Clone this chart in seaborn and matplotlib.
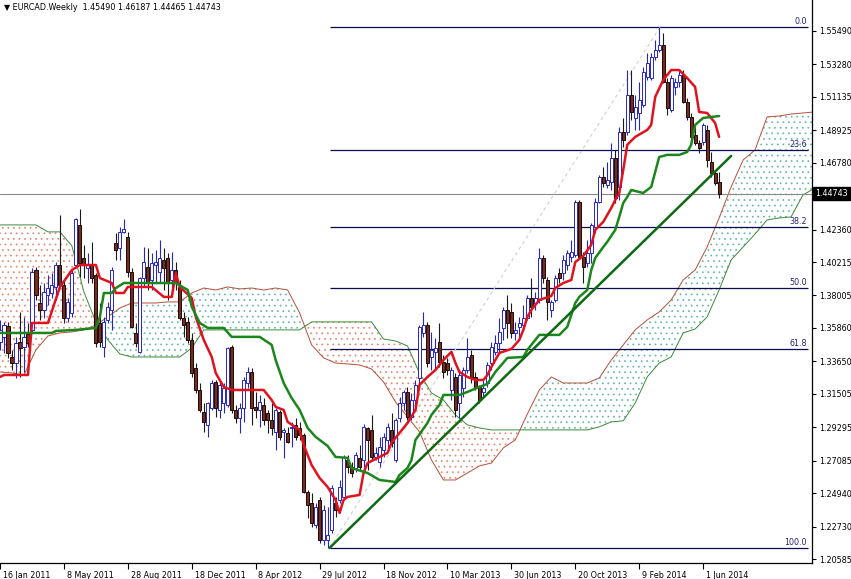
import numpy as np
import matplotlib
matplotlib.use("Agg")
import matplotlib.pyplot as plt
import matplotlib.transforms as mtransforms
import seaborn as sns

# weekly candles, bar 0 = week of 16 Jan 2011
opens = [1.3494, 1.3527, 1.3599, 1.3394, 1.3354, 1.3494, 1.3461, 1.3547, 1.3573, 1.3969,
         1.3751, 1.3705, 1.3804, 1.3817, 1.3857, 1.4002, 1.3870, 1.3652, 1.3685, 1.4002,
         1.4267, 1.4049, 1.3982, 1.4002, 1.3936, 1.3619, 1.3461, 1.3639, 1.3705, 1.4148,
         1.4115, 1.4221, 1.4188, 1.3956, 1.3553, 1.3428, 1.3916, 1.3989, 1.3903, 1.4002,
         1.3956, 1.4035, 1.4049, 1.3903, 1.3969, 1.3857, 1.3652, 1.3626, 1.3507, 1.3321,
         1.3176, 1.3031, 1.2945, 1.3057, 1.3229, 1.3044, 1.3090, 1.3077, 1.3461, 1.3044,
         1.2991, 1.3057, 1.3222, 1.3295, 1.3064, 1.3044, 1.3077, 1.3024, 1.2978, 1.2899,
         1.3031, 1.2899, 1.2892, 1.2925, 1.2945, 1.2925, 1.2879, 1.2502, 1.2429, 1.2284,
         1.2449, 1.2185, 1.2185, 1.2251, 1.2429, 1.2449, 1.2469, 1.2713, 1.2667, 1.2660,
         1.2727, 1.2713, 1.2925, 1.2912, 1.2733, 1.2700, 1.2780, 1.2846, 1.2912, 1.2713,
         1.2991, 1.3090, 1.3163, 1.2998, 1.3110, 1.3255, 1.3553, 1.3606, 1.3394, 1.3428,
         1.3494, 1.3361, 1.3354, 1.3176, 1.3262, 1.3090, 1.3189, 1.3308, 1.3408, 1.3262,
         1.3196, 1.3163, 1.3222, 1.3354, 1.3428, 1.3487, 1.3586, 1.3705, 1.3692, 1.3553,
         1.3593, 1.3606, 1.3652, 1.3784, 1.3751, 1.3771, 1.4049, 1.3903, 1.3705, 1.3771,
         1.3949, 1.3949, 1.4002, 1.4055, 1.4069, 1.4419, 1.4055, 1.4015, 1.4082, 1.4254,
         1.4419, 1.4584, 1.4531, 1.4551, 1.4710, 1.4518, 1.4882, 1.4882, 1.5126, 1.4974,
         1.5007, 1.5060, 1.5245, 1.5238, 1.5377, 1.5424, 1.5457, 1.5212, 1.5027, 1.5179,
         1.5212, 1.5258, 1.5080, 1.4981, 1.4862, 1.4809, 1.4816, 1.4895, 1.4683, 1.4610,
         1.45490]
highs = [1.3639, 1.3626, 1.3626, 1.3441, 1.3527, 1.3692, 1.3659, 1.3619, 1.3982, 1.3989,
         1.3870, 1.3883, 1.3936, 1.3949, 1.4022, 1.4333, 1.3903, 1.3784, 1.3969, 1.4313,
         1.4373, 1.4135, 1.4082, 1.4155, 1.3949, 1.3751, 1.3659, 1.3758, 1.3989, 1.4214,
         1.4254, 1.4307, 1.4221, 1.3982, 1.3619, 1.3923, 1.4121, 1.4115, 1.4082, 1.4102,
         1.4168, 1.4115, 1.4082, 1.4088, 1.4022, 1.3903, 1.3692, 1.3659, 1.3553, 1.3354,
         1.3222, 1.3090, 1.3097, 1.3242, 1.3242, 1.3242, 1.3222, 1.3461, 1.3474, 1.3077,
         1.3090, 1.3262, 1.3328, 1.3321, 1.3163, 1.3143, 1.3123, 1.3044, 1.3090, 1.3057,
         1.3044, 1.2925, 1.2932, 1.2965, 1.2991, 1.2965, 1.2892, 1.2515, 1.2495, 1.2429,
         1.2469, 1.2416, 1.2403, 1.2548, 1.2469, 1.2581, 1.2747, 1.2747, 1.2700, 1.2767,
         1.2813, 1.2952, 1.2932, 1.3011, 1.2800, 1.2866, 1.2892, 1.2958, 1.3024, 1.2991,
         1.3130, 1.3176, 1.3196, 1.3156, 1.3242, 1.3606, 1.3692, 1.3626, 1.3560, 1.3520,
         1.3619, 1.3408, 1.3388, 1.3328, 1.3288, 1.3308, 1.3328, 1.3520, 1.3441, 1.3295,
         1.3209, 1.3242, 1.3361, 1.3494, 1.3540, 1.3652, 1.3725, 1.3804, 1.3751, 1.3626,
         1.3659, 1.3738, 1.3804, 1.3916, 1.3824, 1.4115, 1.4069, 1.3923, 1.3771, 1.3936,
         1.3982, 1.4069, 1.4102, 1.4168, 1.4432, 1.4432, 1.4088, 1.4168, 1.4280, 1.4445,
         1.4597, 1.4650, 1.4683, 1.4809, 1.4763, 1.4915, 1.4974, 1.5291, 1.5291, 1.5126,
         1.5212, 1.5311, 1.5404, 1.5404, 1.5490, 1.5576, 1.5536, 1.5238, 1.5258, 1.5238,
         1.5291, 1.5291, 1.5106, 1.5007, 1.4915, 1.4829, 1.4941, 1.4928, 1.4749, 1.4630,
         1.46187]
lows = [1.3441, 1.3421, 1.3388, 1.3308, 1.3255, 1.3262, 1.3295, 1.3461, 1.3553, 1.3771,
        1.3639, 1.3652, 1.3738, 1.3784, 1.3771, 1.3857, 1.3619, 1.3626, 1.3659, 1.3982,
        1.3923, 1.3916, 1.3883, 1.3883, 1.3461, 1.3461, 1.3394, 1.3619, 1.3573, 1.4035,
        1.4035, 1.4214, 1.3923, 1.3586, 1.3461, 1.3421, 1.3857, 1.3837, 1.3837, 1.3890,
        1.3883, 1.3837, 1.3771, 1.3824, 1.3837, 1.3639, 1.3527, 1.3487, 1.3262, 1.3156,
        1.3031, 1.2899, 1.2866, 1.3044, 1.2998, 1.2991, 1.3024, 1.3064, 1.3024, 1.2958,
        1.2892, 1.2965, 1.3189, 1.2945, 1.2991, 1.2932, 1.2945, 1.2892, 1.2879, 1.2780,
        1.2846, 1.2727, 1.2826, 1.2800, 1.2846, 1.2846, 1.2495, 1.2330, 1.2271, 1.2264,
        1.2165, 1.2152, 1.2132, 1.2231, 1.2337, 1.2429, 1.2449, 1.2627, 1.2601, 1.2634,
        1.2647, 1.2667, 1.2647, 1.2713, 1.2713, 1.2667, 1.2733, 1.2780, 1.2800, 1.2700,
        1.2965, 1.3044, 1.2978, 1.2978, 1.3044, 1.3196, 1.3527, 1.3328, 1.3308, 1.3308,
        1.3328, 1.3255, 1.3275, 1.3110, 1.2998, 1.2991, 1.3130, 1.3288, 1.3222, 1.3176,
        1.3090, 1.3130, 1.3196, 1.3308, 1.3408, 1.3421, 1.3507, 1.3520, 1.3520, 1.3507,
        1.3520, 1.3586, 1.3639, 1.3659, 1.3705, 1.3751, 1.3883, 1.3639, 1.3659, 1.3758,
        1.3883, 1.3903, 1.3969, 1.4022, 1.4055, 1.4049, 1.3883, 1.3989, 1.4015, 1.4214,
        1.4412, 1.4518, 1.4511, 1.4498, 1.4412, 1.4432, 1.4783, 1.4862, 1.4961, 1.4895,
        1.4895, 1.5047, 1.5225, 1.5225, 1.5357, 1.5410, 1.5205, 1.4994, 1.5014, 1.5126,
        1.5179, 1.5073, 1.4961, 1.4816, 1.4796, 1.4743, 1.4796, 1.4650, 1.4584, 1.4531,
        1.44465]
closes = [1.3573, 1.3606, 1.3421, 1.3354, 1.3487, 1.3454, 1.3527, 1.3487, 1.3956, 1.3804,
          1.3705, 1.3824, 1.3850, 1.3870, 1.4002, 1.3870, 1.3652, 1.3758, 1.3949, 1.4307,
          1.4015, 1.4002, 1.4002, 1.3916, 1.3487, 1.3494, 1.3626, 1.3725, 1.3969, 1.4102,
          1.4221, 1.4241, 1.3956, 1.3593, 1.3487, 1.3916, 1.4022, 1.3890, 1.4015, 1.4022,
          1.4049, 1.3982, 1.3883, 1.3969, 1.3883, 1.3652, 1.3606, 1.3507, 1.3288, 1.3176,
          1.3044, 1.2965, 1.3090, 1.3222, 1.3057, 1.3209, 1.3189, 1.3454, 1.3044, 1.2991,
          1.3057, 1.3242, 1.3295, 1.3057, 1.3044, 1.3097, 1.2978, 1.2978, 1.2925, 1.3044,
          1.2866, 1.2912, 1.2833, 1.2932, 1.2866, 1.2879, 1.2502, 1.2416, 1.2297, 1.2403,
          1.2185, 1.2383, 1.2218, 1.2528, 1.2383, 1.2535, 1.2733, 1.2667, 1.2627, 1.2747,
          1.2667, 1.2932, 1.2846, 1.2733, 1.2760, 1.2800, 1.2866, 1.2932, 1.2826, 1.2978,
          1.3090, 1.3163, 1.2998, 1.3110, 1.3209, 1.3593, 1.3606, 1.3354, 1.3441, 1.3454,
          1.3361, 1.3295, 1.3308, 1.3308, 1.3044, 1.3275, 1.3308, 1.3394, 1.3262, 1.3196,
          1.3110, 1.3189, 1.3341, 1.3461, 1.3487, 1.3560, 1.3705, 1.3619, 1.3553, 1.3573,
          1.3619, 1.3652, 1.3784, 1.3725, 1.3784, 1.4049, 1.3916, 1.3758, 1.3758, 1.3916,
          1.3916, 1.4035, 1.4082, 1.4088, 1.4419, 1.4055, 1.3989, 1.4082, 1.4267, 1.4419,
          1.4584, 1.4544, 1.4564, 1.4710, 1.4445, 1.4882, 1.4829, 1.5126, 1.5014, 1.5047,
          1.5093, 1.5278, 1.5337, 1.5377, 1.5424, 1.5457, 1.5212, 1.5040, 1.5238, 1.5212,
          1.5258, 1.5080, 1.4981, 1.4849, 1.4809, 1.4776, 1.4928, 1.4696, 1.4610, 1.4544,
          1.44743]

# ichimoku lines (bar index, price)
tenkan_idx = [0, 1, 7, 8, 12, 15, 18, 20, 24, 25, 28, 29, 31, 32, 38, 41, 43, 44, 45, 48,
              49, 51, 53, 54, 56, 58, 66, 68, 69, 71, 72, 75, 76, 78, 80, 82, 84, 85, 86, 87,
              90, 91, 92, 95, 97, 98, 100, 102, 104, 105, 107, 109, 111, 113, 114, 115, 117, 119, 121, 122,
              123, 125, 128, 130, 131, 132, 133, 135, 138, 139, 141, 143, 144, 146, 148, 149, 151, 153, 154, 155,
              156, 157, 159, 162, 163, 164, 166, 168, 170, 172, 174, 175, 177, 179, 180]
tenkan = [1.3262, 1.3275, 1.3275, 1.3619, 1.3619, 1.3857, 1.3969, 1.4002, 1.4002, 1.3916,
          1.3883, 1.3817, 1.3817, 1.3857, 1.3857, 1.3791, 1.3791, 1.3949, 1.3857, 1.3784,
          1.3659, 1.3507, 1.3394, 1.3288, 1.3196, 1.3176, 1.3176, 1.3110, 1.3064, 1.3044,
          1.2965, 1.2912, 1.2813, 1.2680, 1.2594, 1.2535, 1.2449, 1.2363, 1.2449, 1.2469,
          1.2482, 1.2627, 1.2693, 1.2733, 1.2760, 1.2826, 1.2892, 1.2958, 1.3044, 1.3209,
          1.3262, 1.3308, 1.3374, 1.3428, 1.3354, 1.3295, 1.3262, 1.3242, 1.3242, 1.3275,
          1.3328, 1.3421, 1.3447, 1.3507, 1.3573, 1.3659, 1.3705, 1.3771, 1.3797, 1.3850,
          1.3883, 1.3903, 1.4022, 1.4062, 1.4135, 1.4234, 1.4287, 1.4379, 1.4432, 1.4478,
          1.4630, 1.4796, 1.4849, 1.4895, 1.4928, 1.5113, 1.5225, 1.5291, 1.5291, 1.5238,
          1.5179, 1.5014, 1.5007, 1.4941, 1.4849]

kijun_idx = [0, 13, 14, 19, 24, 25, 26, 28, 29, 31, 44, 47, 48, 50, 52, 56, 58, 65, 68, 69,
             71, 73, 75, 77, 79, 82, 84, 87, 88, 92, 95, 99, 100, 102, 103, 104, 107, 108, 110, 111,
             115, 117, 120, 122, 124, 127, 131, 132, 135, 140, 142, 144, 145, 147, 148, 149, 151, 152, 154, 155,
             156, 157, 158, 161, 163, 165, 167, 170, 172, 173, 174, 176, 180]
kijun = [1.3553, 1.3553, 1.3566, 1.3573, 1.3586, 1.3659, 1.3817, 1.3817, 1.3850, 1.3883,
         1.3883, 1.3837, 1.3725, 1.3619, 1.3586, 1.3586, 1.3527, 1.3527, 1.3474, 1.3374,
         1.3222, 1.3123, 1.3044, 1.2925, 1.2866, 1.2806, 1.2733, 1.2727, 1.2660, 1.2627,
         1.2581, 1.2568, 1.2614, 1.2660, 1.2713, 1.2846, 1.2958, 1.3011, 1.3077, 1.3143,
         1.3143, 1.3163, 1.3196, 1.3216, 1.3295, 1.3388, 1.3394, 1.3441, 1.3540, 1.3540,
         1.3593, 1.3751, 1.3791, 1.3837, 1.3969, 1.4049, 1.4121, 1.4155, 1.4234, 1.4320,
         1.4412, 1.4452, 1.4498, 1.4478, 1.4518, 1.4716, 1.4730, 1.4730, 1.4749, 1.4796,
         1.4928, 1.4974, 1.4987]

# senkou spans (already shifted 26 bars ahead), read every 3 bars
kumo_idx = list(range(0, 205, 3)) + [206]
span_a = [1.3295, 1.3288, 1.3275, 1.3441, 1.3533, 1.3553, 1.3560, 1.3573, 1.3606, 1.3659,
          1.3718, 1.3751, 1.3751, 1.3751, 1.3758, 1.3758, 1.3817, 1.3850, 1.3837, 1.3857,
          1.3844, 1.3850, 1.3837, 1.3850, 1.3837, 1.3685, 1.3474, 1.3388, 1.3354, 1.3348,
          1.3341, 1.3315, 1.3229, 1.3097, 1.2998, 1.2899, 1.2713, 1.2581, 1.2581, 1.2627,
          1.2674, 1.2693, 1.2793, 1.2846, 1.3017, 1.3176, 1.3262, 1.3222, 1.3222, 1.3222,
          1.3255, 1.3374, 1.3474, 1.3573, 1.3639, 1.3692, 1.3771, 1.3903, 1.3969, 1.4121,
          1.4313, 1.4518, 1.4696, 1.4763, 1.4981, 1.4987, 1.5000, 1.5007, 1.5014, 1.5014]
span_b = [1.4267, 1.4267, 1.4267, 1.4267, 1.4221, 1.4221, 1.4128, 1.3824, 1.3626, 1.3507,
          1.3414, 1.3394, 1.3394, 1.3394, 1.3394, 1.3394, 1.3454, 1.3573, 1.3573, 1.3573,
          1.3573, 1.3573, 1.3573, 1.3573, 1.3573, 1.3573, 1.3626, 1.3626, 1.3626, 1.3626,
          1.3626, 1.3626, 1.3513, 1.3500, 1.3467, 1.3288, 1.3156, 1.3110, 1.3011, 1.2945,
          1.2925, 1.2912, 1.2912, 1.2912, 1.2912, 1.2912, 1.2912, 1.2912, 1.2912, 1.2912,
          1.2932, 1.2965, 1.2972, 1.3090, 1.3262, 1.3354, 1.3394, 1.3553, 1.3579, 1.3659,
          1.3837, 1.4035, 1.4121, 1.4207, 1.4300, 1.4313, 1.4320, 1.4465, 1.4511, 1.4525]

# fibonacci retracement drawn between the Jul 2012 low and the Feb 2014 high
fib_labels = ["0.0", "23.6", "38.2", "50.0", "61.8", "100.0"]
fib_levels = [1.5576, 1.4763, 1.4254, 1.3850, 1.3447, 1.2132]
fib_anchor_idx = [82.5, 165.25]
fib_anchor_price = [1.2132, 1.5576]
trend_idx = [82.5, 183]
trend_price = [1.2132, 1.4723]

price_ticks = [1.55490, 1.53280, 1.51135, 1.48925, 1.46780, 1.42360, 1.40215, 1.38005,
               1.35860, 1.33650, 1.31505, 1.29295, 1.27085, 1.24940, 1.22730, 1.20585]
date_labels = ["16 Jan 2011", "8 May 2011", "28 Aug 2011", "18 Dec 2011", "8 Apr 2012",
               "29 Jul 2012", "18 Nov 2012", "10 Mar 2013", "30 Jun 2013", "20 Oct 2013",
               "9 Feb 2014", "1 Jun 2014"]

sns.set_style("white")
plt.rcParams['font.family'] = ['DejaVu Sans']
plt.rcParams['hatch.linewidth'] = 0.5
FS = 5.8

fig = plt.figure(figsize=(8.51, 5.79), dpi=100)
ax = fig.add_axes([0, 16 / 579, 812 / 851, 563 / 579])
ax.set_xlim(0.25, 203.25)
ax.set_ylim(1.20321, 1.57539)

# cloud (dotted kumo)
k = np.array(kumo_idx)
A = np.array(span_a)
B = np.array(span_b)
ax.fill_between(k, A, B, where=A >= B, interpolate=True, facecolor='none',
                edgecolor='#5fb5a8', hatch='...', linewidth=0, zorder=1)
ax.fill_between(k, A, B, where=A <= B, interpolate=True, facecolor='none',
                edgecolor='#e8826a', hatch='...', linewidth=0, zorder=1)
sns.lineplot(x=kumo_idx, y=span_a, ax=ax, color='#b5503a', linewidth=0.7,
             sort=False, estimator=None, zorder=2)
sns.lineplot(x=kumo_idx, y=span_b, ax=ax, color='#3a8a3a', linewidth=0.7,
             sort=False, estimator=None, zorder=2)

# fibonacci
ax.hlines(fib_levels, fib_anchor_idx[0], 202.25, color='#0c0c50', linewidth=0.9, zorder=2)
for lab, lev in zip(fib_labels, fib_levels):
    ax.text(202.0, lev + 0.0004, lab, ha='right', va='bottom', fontsize=FS, color='#25257a')
ax.plot(fib_anchor_idx, fib_anchor_price, linestyle=(0, (3, 3)), color='#cfcfcf',
        linewidth=0.8, zorder=2)

# current price line
ax.axhline(closes[-1], color='#8a8a8a', linewidth=0.8, zorder=2)

# candles
o = np.array(opens)
h = np.array(highs)
l = np.array(lows)
c = np.array(closes)
idx = np.arange(len(c))
up = c >= o
ax.vlines(idx, l, h, colors=np.where(up, '#2626c8', '#1a1a1a'), linewidth=0.8, zorder=3)
ax.bar(idx, np.maximum(np.abs(c - o), 0.0003), bottom=np.minimum(o, c), width=0.78,
       color=np.where(up, 'white', '#7a2a1e'), edgecolor=np.where(up, '#2626c8', '#1a0a05'),
       linewidth=0.7, zorder=4)

# tenkan / kijun
sns.lineplot(x=tenkan_idx, y=tenkan, ax=ax, color='#e0121e', linewidth=1.8,
             sort=False, estimator=None, zorder=5)
sns.lineplot(x=kijun_idx, y=kijun, ax=ax, color='#1b861b', linewidth=1.8,
             sort=False, estimator=None, zorder=5)

# trend line
ax.plot(trend_idx, trend_price, color='#0b6a12', linewidth=1.8, zorder=6)

# axes
for s in ['top', 'left']:
    ax.spines[s].set_visible(False)
for s in ['right', 'bottom']:
    ax.spines[s].set_color('black')
    ax.spines[s].set_linewidth(0.9)
ax.grid(False)
ax.set_xlabel('')
ax.set_ylabel('')

ax.yaxis.tick_right()
ax.set_yticks(price_ticks)
ax.set_yticklabels([f"{v:.5f}" for v in price_ticks])
ax.tick_params(axis='y', direction='out', length=3, width=0.8, pad=2, labelsize=FS,
               colors='black', right=True, left=False)

ax.set_xticks(range(0, 16 * len(date_labels), 16))
ax.set_xticklabels(date_labels)
ax.tick_params(axis='x', direction='out', length=4, width=0.8, pad=2, labelsize=FS,
               colors='black', bottom=True)
shift = mtransforms.ScaledTranslation(2 / 72, 0, fig.dpi_scale_trans)
for lbl in ax.get_xticklabels():
    lbl.set_horizontalalignment('left')
    lbl.set_transform(lbl.get_transform() + shift)

trans = mtransforms.blended_transform_factory(ax.transAxes, ax.transData)
ax.text(1.004, closes[-1], f"{closes[-1]:.5f}", transform=trans, ha='left', va='center',
        color='white', fontsize=FS, clip_on=False, zorder=10,
        bbox=dict(boxstyle='square,pad=0.3', facecolor='black', edgecolor='black'))

fig.text(4 / 851, 1 - 8 / 579,
         f"\u25bc EURCAD.Weekly  {opens[-1]:.5f} {highs[-1]:.5f} {lows[-1]:.5f} {closes[-1]:.5f}",
         fontsize=FS, va='center', ha='left', color='black')

fig.savefig('out.png', dpi=100)
